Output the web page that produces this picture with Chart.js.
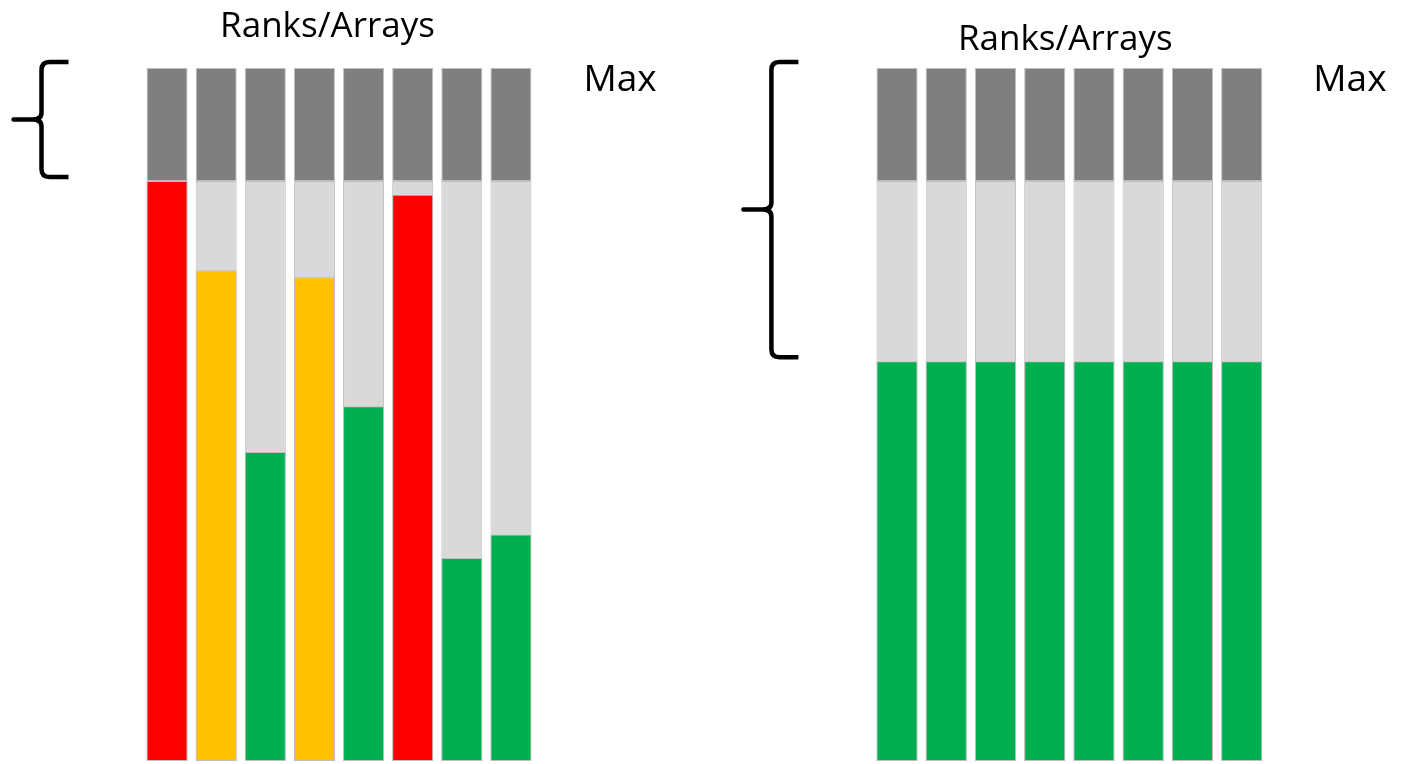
<!DOCTYPE html>
<html lang="en">
<head>
<meta charset="UTF-8">
<title>Ranks/Arrays</title>
<script src="https://cdn.jsdelivr.net/npm/chart.js"></script>
<style>
  body { margin: 0; background: #fff; width: 1402px; height: 764px; overflow: hidden; position: relative; }
  .panel { position: absolute; top: 0; height: 764px; }
</style>
</head>
<body>
<div class="panel" style="left:0;width:700px"><canvas id="leftChart"></canvas></div>
<div class="panel" style="left:700px;width:702px"><canvas id="rightChart"></canvas></div>
<script>
// data
const ranks = ['R1', 'R2', 'R3', 'R4', 'R5', 'R6', 'R7', 'R8'];
const maxLevel = 100;
const limitLevel = 83.7;
const leftUsage = [83.7, 70.8, 44.6, 69.8, 51.2, 81.7, 29.3, 32.7];
const leftStatus = ['over', 'warn', 'ok', 'warn', 'ok', 'over', 'ok', 'ok'];
const rightUsage = [57.7, 57.7, 57.7, 57.7, 57.7, 57.7, 57.7, 57.7];
const rightStatus = ['ok', 'ok', 'ok', 'ok', 'ok', 'ok', 'ok', 'ok'];
const titleText = 'Ranks/Arrays';
const maxText = 'Max';

const statusColors = { over: '#FF0000', warn: '#FFC000', ok: '#00B050' };
const edge = '#BFBFBF';

// brace + labels drawn on the canvas
function notes(cfg) {
    return {
        id: 'notes',
        afterDraw(chart) {
            const ctx = chart.ctx, area = chart.chartArea, y = chart.scales.y;
            ctx.save();
            ctx.fillStyle = '#000';
            ctx.font = '35px "Open Sans", sans-serif';
            ctx.textBaseline = 'alphabetic';
            ctx.textAlign = 'center';
            ctx.fillText(titleText, (area.left + area.right) / 2 + cfg.titleDx, area.top + cfg.titleDy);
            ctx.textAlign = 'left';
            ctx.font = '37px "Open Sans", sans-serif';
            ctx.fillText(maxText, area.right + cfg.maxDx, y.getPixelForValue(maxLevel) + 23);

            // curly brace
            const y0 = y.getPixelForValue(maxLevel) - 6;
            const y1 = y.getPixelForValue(cfg.braceTo) - 4;
            const ym = (y0 + y1) / 2;
            const tx = area.left - 129, vx = tx + 28, ex = tx + 55, r = 8;
            ctx.strokeStyle = '#000';
            ctx.lineWidth = 4.5;
            ctx.lineJoin = 'round';
            ctx.beginPath();
            ctx.moveTo(ex, y0);
            ctx.lineTo(vx + r, y0);
            ctx.quadraticCurveTo(vx, y0, vx, y0 + r);
            ctx.lineTo(vx, ym - 7);
            ctx.quadraticCurveTo(vx, ym, vx - 9, ym);
            ctx.lineTo(tx, ym);
            ctx.lineTo(vx - 9, ym);
            ctx.quadraticCurveTo(vx, ym, vx, ym + 7);
            ctx.lineTo(vx, y1 - r);
            ctx.quadraticCurveTo(vx, y1, vx + r, y1);
            ctx.lineTo(ex, y1);
            ctx.stroke();
            ctx.restore();
        }
    };
}

function makeChart(id, usage, status, pad, cfg) {
    return new Chart(document.getElementById(id), {
        type: 'bar',
        data: {
            labels: ranks,
            datasets: [
                { label: 'used', data: usage, backgroundColor: status.map(s => statusColors[s]) },
                { label: 'free', data: ranks.map(() => [0, limitLevel]), backgroundColor: '#D9D9D9' },
                { label: 'reserved', data: ranks.map(() => [limitLevel, maxLevel]), backgroundColor: '#7F7F7F' }
            ]
        },
        options: {
            responsive: true,
            maintainAspectRatio: false,
            animation: false,
            layout: { padding: pad },
            datasets: {
                bar: {
                    grouped: false,
                    categoryPercentage: 1,
                    barPercentage: 0.835,
                    borderColor: edge,
                    borderWidth: 1,
                    borderSkipped: false
                }
            },
            plugins: { legend: { display: false }, tooltip: { enabled: false } },
            scales: {
                x: { display: false },
                y: { display: false, min: 0, max: maxLevel }
            }
        },
        plugins: [notes(cfg)]
    });
}

makeChart('leftChart', leftUsage, leftStatus,
    { left: 142.5, right: 164.5, top: 68, bottom: 3 },
    { titleDx: -11.5, titleDy: -31, maxDx: 48, braceTo: limitLevel });
makeChart('rightChart', rightUsage, rightStatus,
    { left: 172.4, right: 135.7, top: 68, bottom: 3 },
    { titleDx: -4, titleDy: -18, maxDx: 47, braceTo: rightUsage[0] });
</script>
</body>
</html>
